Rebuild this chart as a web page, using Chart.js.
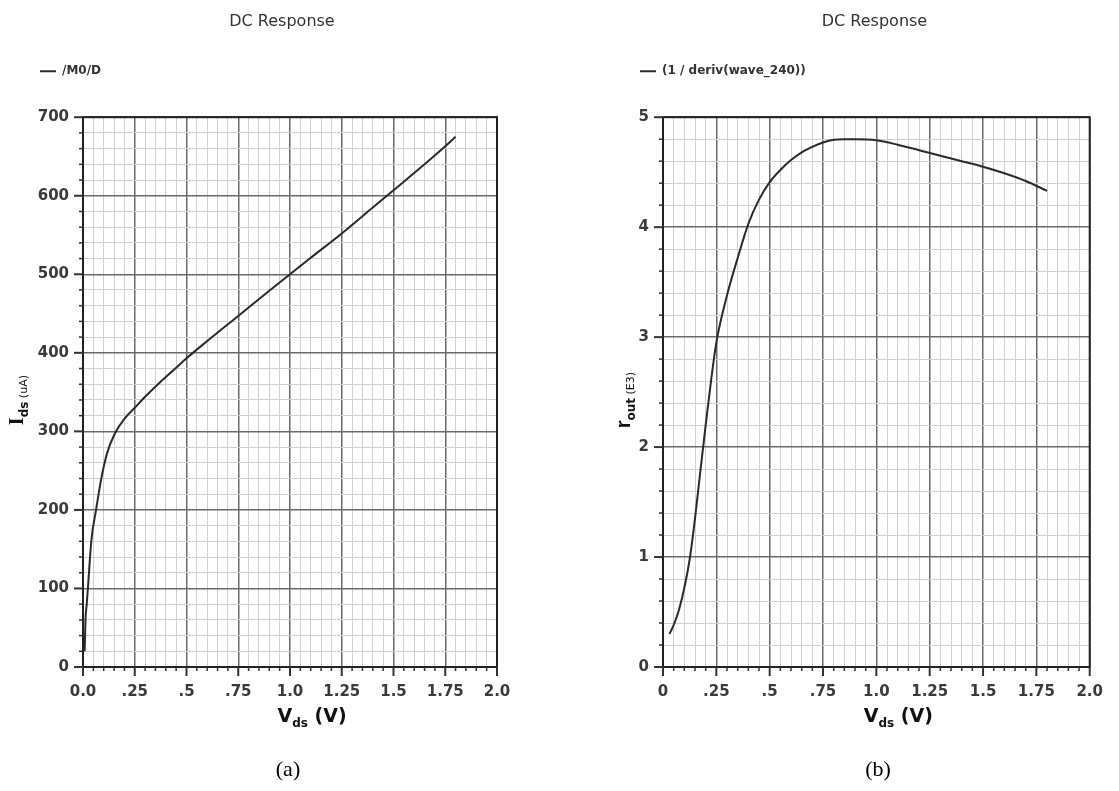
<!DOCTYPE html>
<html>
<head>
<meta charset="utf-8">
<script src="https://cdn.jsdelivr.net/npm/chart.js@4.4.1/dist/chart.umd.min.js"></script>
<style>
  body { margin: 0; background: #fff; width: 1119px; height: 791px; position: relative; overflow: hidden; }
  .panel { position: absolute; top: 0; height: 791px; }
  .cap { position: absolute; top: 756px; font: 22px "Liberation Serif", serif; color: #000; transform: translateX(-50%); }
</style>
</head>
<body>
<div class="panel" style="left:0;width:560px"><canvas id="chartA"></canvas></div>
<div class="panel" style="left:560px;width:559px"><canvas id="chartB"></canvas></div>
<div class="cap" style="left:288px">(a)</div>
<div class="cap" style="left:878px">(b)</div>
<script>
// (a) drain current vs Vds
const vdsA = [0.008, 0.010, 0.012, 0.018, 0.025, 0.04, 0.063, 0.087, 0.116, 0.155, 0.2, 0.25, 0.3, 0.37, 0.45, 0.5, 0.6, 0.75, 0.9, 1.0, 1.1, 1.25, 1.4, 1.5, 1.65, 1.75, 1.8];
const idsA = [20, 40, 60, 80, 105, 160, 200, 238, 272, 298, 316, 330, 344, 362, 381, 393, 415, 447, 479, 500, 521, 552, 585, 607, 640, 663, 675];

// (b) output resistance (E3) vs Vds
const vdsB = [0.03, 0.05, 0.075, 0.1, 0.125, 0.15, 0.175, 0.2, 0.225, 0.25, 0.3, 0.35, 0.4, 0.45, 0.5, 0.55, 0.6, 0.65, 0.7, 0.75, 0.8, 0.85, 0.9, 1.0, 1.1, 1.2, 1.3, 1.4, 1.5, 1.6, 1.7, 1.8];
const rOut = [0.3, 0.38, 0.52, 0.72, 0.98, 1.35, 1.78, 2.2, 2.6, 2.95, 3.38, 3.72, 4.03, 4.25, 4.41, 4.52, 4.61, 4.68, 4.73, 4.77, 4.795, 4.8, 4.8, 4.79, 4.75, 4.7, 4.65, 4.6, 4.55, 4.49, 4.42, 4.33];

const xTicksA = ['0.0', '.25', '.5', '.75', '1.0', '1.25', '1.5', '1.75', '2.0'];
const xTicksB = ['0', '.25', '.5', '.75', '1.0', '1.25', '1.5', '1.75', '2.0'];
const yTicksA = ['0', '100', '200', '300', '400', '500', '600', '700'];
const yTicksB = ['0', '1', '2', '3', '4', '5'];

const SANS = 'DejaVu Sans';
const isMajor = i => i % 5 === 0;

// draws a run of text pieces (with sub-scripts) centred on x
function drawParts(ctx, parts, x, y) {
  let w = 0;
  parts.forEach(p => { ctx.font = p.font; w += ctx.measureText(p.text).width; });
  let cx = x - w / 2;
  parts.forEach(p => {
    ctx.font = p.font;
    ctx.fillText(p.text, cx, y + (p.dy || 0));
    cx += ctx.measureText(p.text).width;
  });
}

// frame, tick marks and axis titles
const framePlugin = {
  id: 'frame',
  afterDraw(chart, args, opts) {
    const { ctx, chartArea: a, scales } = chart;
    ctx.save();
    ctx.strokeStyle = '#222';
    ctx.lineWidth = 2;
    ctx.strokeRect(a.left, a.top, a.right - a.left, a.bottom - a.top);

    ctx.strokeStyle = '#333';
    scales.x.ticks.forEach((t, i) => {
      const px = scales.x.getPixelForValue(t.value);
      ctx.lineWidth = isMajor(i) ? 2 : 1.5;
      ctx.beginPath();
      ctx.moveTo(px, a.bottom);
      ctx.lineTo(px, a.bottom + (isMajor(i) ? 9 : 4));
      ctx.stroke();
    });
    scales.y.ticks.forEach((t, i) => {
      const py = scales.y.getPixelForValue(t.value);
      ctx.lineWidth = isMajor(i) ? 2 : 1.5;
      ctx.beginPath();
      ctx.moveTo(a.left, py);
      ctx.lineTo(a.left - (isMajor(i) ? 9 : 4), py);
      ctx.stroke();
    });

    ctx.fillStyle = '#111';
    ctx.textBaseline = 'alphabetic';
    drawParts(ctx, opts.xTitle, (a.left + a.right) / 2 + 22, a.bottom + 55);

    ctx.translate(opts.yTitleX, (a.top + a.bottom) / 2 + 8);
    ctx.rotate(-Math.PI / 2);
    drawParts(ctx, opts.yTitle, 0, 0);
    ctx.restore();
  }
};

function panel(id, s) {
  const gridColor = c => isMajor(c.index) ? '#6a6a6a' : '#cfcfcf';
  const gridWidth = c => isMajor(c.index) ? 1.5 : 1;
  const tickFont = { family: SANS, size: 15, weight: 'bold' };
  return new Chart(document.getElementById(id), {
    type: 'line',
    data: {
      datasets: [{
        label: s.label,
        data: s.xs.map((x, i) => ({ x: x, y: s.ys[i] })),
        borderColor: '#2a2a2a',
        backgroundColor: '#2a2a2a',
        borderWidth: 2,
        pointRadius: 0,
        cubicInterpolationMode: 'monotone'
      }]
    },
    options: {
      responsive: true,
      maintainAspectRatio: false,
      animation: false,
      layout: { padding: { left: s.padL, right: s.padR, top: 0, bottom: 0 } },
      scales: {
        x: {
          type: 'linear', min: 0, max: 2,
          afterFit: sc => { sc.height = 124; },
          border: { display: false },
          grid: { drawTicks: false, color: gridColor, lineWidth: gridWidth },
          ticks: {
            stepSize: 0.05, maxTicksLimit: 100, autoSkip: false, maxRotation: 0, padding: 16,
            color: '#3a3a3a', font: tickFont,
            callback: (v, i) => isMajor(i) ? s.xLabels[i / 5] : ''
          }
        },
        y: {
          type: 'linear', min: 0, max: s.yMax,
          afterFit: sc => { sc.width = s.yWidth; },
          border: { display: false },
          grid: { drawTicks: false, color: gridColor, lineWidth: gridWidth },
          ticks: {
            stepSize: s.yStep, maxTicksLimit: 100, autoSkip: false, padding: 14,
            color: '#3a3a3a', font: tickFont,
            callback: (v, i) => isMajor(i) ? s.yLabels[i / 5] : ''
          }
        },
        // spacer axes that keep the plot box in place
        xTop: {
          type: 'linear', position: 'top', min: 0, max: 1,
          grid: { display: false }, ticks: { display: false }, border: { display: false },
          afterFit: sc => { sc.height = 30; }
        },
        yRight: {
          type: 'linear', position: 'right', min: 0, max: 1,
          grid: { display: false }, ticks: { display: false }, border: { display: false },
          afterFit: sc => { sc.width = s.rightGap; }
        }
      },
      plugins: {
        title: {
          display: true, text: 'DC Response', color: '#333',
          font: { family: SANS, size: 16, weight: 'normal' },
          padding: { top: 12, bottom: 24 }
        },
        legend: {
          display: true, align: 'start',
          labels: {
            usePointStyle: true, pointStyle: 'line', pointStyleWidth: 16,
            color: '#333', padding: 10,
            font: { family: SANS, size: 12, weight: 'bold' }
          }
        },
        tooltip: { enabled: false },
        frame: { xTitle: s.xTitle, yTitle: s.yTitle, yTitleX: s.yTitleX }
      }
    },
    plugins: [framePlugin]
  });
}

const vdsTitle = [
  { text: 'V', font: 'bold 19px "DejaVu Sans"' },
  { text: 'ds', font: 'bold 12px "DejaVu Sans"', dy: 5 },
  { text: ' (V)', font: 'bold 19px "DejaVu Sans"' }
];

panel('chartA', {
  label: '/M0/D', xs: vdsA, ys: idsA,
  xLabels: xTicksA, yLabels: yTicksA, yMax: 700, yStep: 20,
  padL: 30, padR: 26, yWidth: 53, rightGap: 37,
  xTitle: vdsTitle,
  yTitle: [
    { text: 'I', font: 'bold 20px "Liberation Serif"' },
    { text: 'ds', font: 'bold 12px "DejaVu Sans"', dy: 5 },
    { text: ' (uA)', font: '11px "DejaVu Sans"', dy: 4 }
  ],
  yTitleX: 23
});

panel('chartB', {
  label: '(1 / deriv(wave_240))', xs: vdsB, ys: rOut,
  xLabels: xTicksB, yLabels: yTicksB, yMax: 5, yStep: 0.2,
  padL: 70, padR: 0, yWidth: 33, rightGap: 19,
  xTitle: vdsTitle,
  yTitle: [
    { text: 'r', font: 'bold 20px "Liberation Sans"' },
    { text: 'out', font: 'bold 12px "DejaVu Sans"', dy: 5 },
    { text: ' (E3)', font: '11px "DejaVu Sans"', dy: 4 }
  ],
  yTitleX: 70
});
</script>
</body>
</html>
